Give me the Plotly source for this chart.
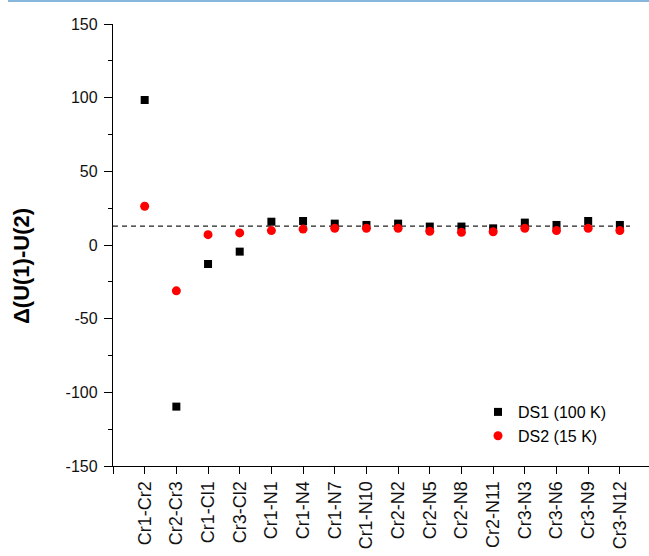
import plotly.graph_objects as go

categories = ["Cr1-Cr2", "Cr2-Cr3", "Cr1-Cl1", "Cr3-Cl2", "Cr1-N1", "Cr1-N4", "Cr1-N7",
              "Cr1-N10", "Cr2-N2", "Cr2-N5", "Cr2-N8", "Cr2-N11", "Cr3-N3", "Cr3-N6",
              "Cr3-N9", "Cr3-N12"]
ds1_values = [98.4, -109.7, -12.9, -4.5, 15.8, 16.3, 14.5, 13.6, 14.5, 12.5, 12.5, 11.3,
              15.2, 13.6, 16.3, 13.6]
ds2_values = [26.3, -31.1, 7.0, 8.2, 9.8, 10.8, 11.3, 11.3, 11.3, 9.3, 8.6, 9.0, 11.3,
              9.8, 11.3, 9.8]
ref_level = 12.8
y_ticks = [-150, -100, -50, 0, 50, 100, 150]
y_tick_labels = ["-150", "-100", "-50", "0", "50", "100", "150"]

FONT = "Liberation Sans, Arial, sans-serif"
xpos = list(range(len(categories)))

fig = go.Figure()
fig.add_trace(go.Scatter(x=xpos, y=ds1_values, mode="markers", name="DS1 (100 K)",
                         legendgroup="a",
                         marker=dict(symbol="square", size=8, color="#000000")))
fig.add_trace(go.Scatter(x=xpos, y=ds2_values, mode="markers", name="DS2 (15 K)",
                         legendgroup="b",
                         marker=dict(symbol="circle", size=9, color="#ff0000")))

fig.add_shape(type="line", xref="x", yref="y", x0=-1, x1=15.32, y0=ref_level, y1=ref_level,
              line=dict(color="#222222", width=1.4, dash="5px,4px"), layer="below")

# thin blue rule at the very top of the page
fig.add_shape(type="line", xref="paper", yref="paper", x0=(8 - 113) / 536, x1=1.0,
              y0=1 + 23 / 442, y1=1 + 23 / 442,
              line=dict(color="#86b6dc", width=2))

fig.add_annotation(text="Δ(U(1)-U(2)", xref="paper", yref="paper",
                   x=(21 - 113) / 536, y=(466 - 266) / 442, textangle=-90,
                   showarrow=False, xanchor="center", yanchor="middle",
                   font=dict(family=FONT, size=22, color="#000000", weight="bold"))

fig.update_xaxes(range=[-1, 15.92], tickmode="array",
                 tickvals=[-1] + xpos, ticktext=[""] + categories,
                 tickangle=-90, ticks="outside", ticklen=7, tickwidth=1.2,
                 tickcolor="#000", showline=True, linecolor="#000", linewidth=1.3,
                 showgrid=False, zeroline=False, automargin=False,
                 tickfont=dict(family=FONT, size=18, color="#111"))
fig.update_yaxes(range=[-150, 150], tickmode="array", tickvals=y_ticks,
                 ticktext=y_tick_labels,
                 ticks="outside", ticklen=8, tickwidth=1.2, tickcolor="#000",
                 minor=dict(ticks="outside", ticklen=4, dtick=25, tick0=0,
                            tickcolor="#000", tickwidth=1.2),
                 showline=True, linecolor="#000", linewidth=1.3,
                 showgrid=False, zeroline=False, ticklabelstandoff=3, automargin=False,
                 tickfont=dict(family=FONT, size=16, color="#111"))

fig.update_layout(width=649, height=556,
                  margin=dict(l=113, r=0, t=24, b=90, pad=0, autoexpand=False),
                  paper_bgcolor="white", plot_bgcolor="white",
                  showlegend=True,
                  legend=dict(x=(478 - 113) / 536, y=(466 - 395) / 442,
                              xanchor="left", yanchor="top",
                              bgcolor="rgba(0,0,0,0)", tracegroupgap=0,
                              font=dict(family=FONT, size=16, color="#000")),
                  font=dict(family=FONT))

fig.write_html("out.html", config={"displayModeBar": False},
               post_script="document.body.style.margin='0px';")
